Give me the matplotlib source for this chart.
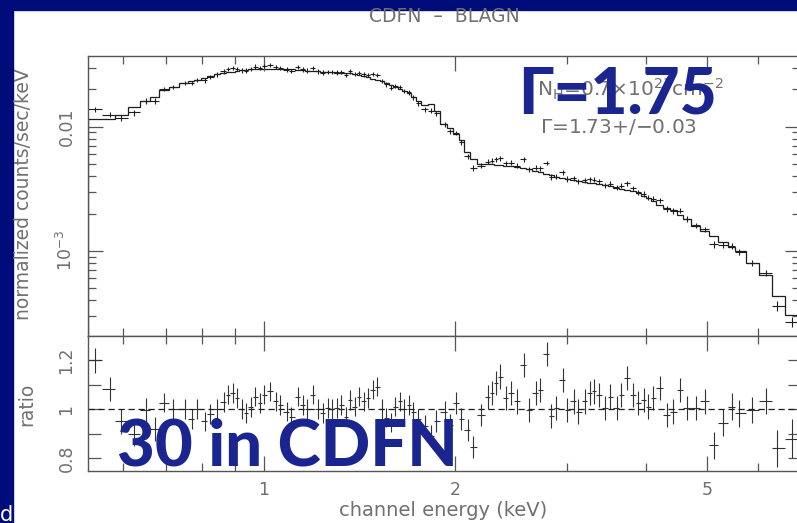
import numpy as np
import matplotlib
matplotlib.use('Agg')
import matplotlib.pyplot as plt
from matplotlib.patches import Rectangle
from matplotlib.ticker import NullFormatter

plt.rcParams['mathtext.default'] = 'regular'

# channel centres (keV)
energy = [0.541, 0.571, 0.596, 0.624, 0.651, 0.673, 0.696, 0.719, 0.751, 0.770,
          0.783, 0.806, 0.823, 0.843, 0.864, 0.878, 0.893, 0.907, 0.922, 0.937,
          0.953, 0.969, 0.985, 1.001, 1.023, 1.043, 1.060, 1.087, 1.105, 1.132,
          1.151, 1.170, 1.194, 1.215, 1.239, 1.260, 1.281, 1.302, 1.324, 1.346,
          1.368, 1.390, 1.413, 1.436, 1.460, 1.484, 1.509, 1.534, 1.559, 1.585,
          1.611, 1.638, 1.665, 1.693, 1.720, 1.749, 1.792, 1.837, 1.867, 1.929,
          1.962, 2.010, 2.044, 2.095, 2.137, 2.201, 2.256, 2.286, 2.323, 2.357,
          2.409, 2.448, 2.502, 2.572, 2.615, 2.680, 2.724, 2.792, 2.838, 2.884,
          2.957, 3.005, 3.080, 3.131, 3.209, 3.262, 3.316, 3.371, 3.455, 3.512,
          3.599, 3.658, 3.732, 3.812, 3.894, 3.973, 4.037, 4.104, 4.207, 4.312,
          4.418, 4.529, 4.642, 4.796, 4.957, 5.122, 5.293, 5.469, 5.605, 5.890,
          6.185, 6.444, 6.795]

# folded model, counts/sec/keV
model = [0.0115, 0.0115, 0.0124, 0.0145, 0.0162, 0.0175, 0.0197, 0.0210, 0.0227, 0.0235,
         0.0240, 0.0249, 0.0256, 0.0264, 0.0271, 0.0276, 0.0279, 0.0282, 0.0285, 0.0288,
         0.0290, 0.0291, 0.0292, 0.0292, 0.0293, 0.0293, 0.0292, 0.0292, 0.0290, 0.0287,
         0.0285, 0.0284, 0.0282, 0.0280, 0.0278, 0.0277, 0.0275, 0.0273, 0.0272, 0.0270,
         0.0269, 0.0265, 0.0260, 0.0256, 0.0251, 0.0245, 0.0239, 0.0233, 0.0227, 0.0219,
         0.0211, 0.0203, 0.0195, 0.0186, 0.0174, 0.0161, 0.0149, 0.0152, 0.0135, 0.0106,
         0.0098, 0.0087, 0.0078, 0.0063, 0.0055, 0.0050, 0.0050, 0.0050, 0.00495, 0.0049,
         0.00485, 0.0048, 0.00472, 0.00462, 0.00455, 0.00440, 0.00430, 0.00415, 0.00405, 0.00395,
         0.00384, 0.00380, 0.00372, 0.00367, 0.00360, 0.00355, 0.00350, 0.00345, 0.00337, 0.00331,
         0.00323, 0.00317, 0.00312, 0.00303, 0.00290, 0.00277, 0.00265, 0.00252, 0.00235, 0.00223,
         0.00212, 0.00195, 0.00180, 0.00160, 0.00145, 0.00133, 0.00118, 0.00108, 0.00100, 0.00080,
         0.00064, 0.00043, 0.000305]

# data / model
ratio = [1.200, 1.084, 0.950, 0.900, 0.997, 0.920, 1.027, 1.000, 1.000, 0.960,
         1.000, 0.950, 0.980, 1.000, 1.030, 1.060, 1.066, 1.045, 1.000, 0.985,
         1.010, 1.052, 1.025, 1.060, 1.073, 1.032, 1.018, 0.990, 0.970, 1.052,
         1.018, 1.000, 1.060, 1.000, 0.985, 1.004, 1.000, 1.004, 1.018, 0.970,
         1.038, 1.011, 1.052, 1.032, 1.045, 1.080, 1.093, 1.000, 0.966, 0.945,
         1.011, 1.032, 1.000, 1.018, 0.990, 0.960, 0.930, 0.890, 0.950, 0.990,
         0.936, 1.025, 0.960, 0.915, 0.847, 0.975, 1.050, 1.066, 1.107, 1.134,
         1.045, 1.066, 1.032, 1.182, 0.997, 1.066, 1.080, 1.227, 0.973, 1.004,
         1.120, 0.997, 1.032, 0.990, 1.032, 1.066, 1.073, 1.058, 1.004, 1.052,
         1.004, 1.058, 1.127, 1.058, 1.025, 1.038, 1.011, 1.045, 1.086, 0.976,
         0.990, 1.080, 1.004, 1.004, 1.032, 0.853, 0.945, 1.010, 0.984, 0.997,
         1.034, 0.840, 0.880]

ratio_err = [0.05] * 6 + [0.04] * 50 + [0.045] * 10 + [0.05] * 39 + [0.055] * 6 + [0.075, 0.08]

e_min, e_max = 0.528, 7.0
title = 'CDFN  \u2013  BLAGN'
nh_text = r'N$_H$=0.7$\times$10$^{21}$cm$^{-2}$'
gamma_fit = r'$\Gamma$=1.73+/$-$0.03'

energy = np.array(energy)
model = np.array(model)
ratio = np.array(ratio)
ratio_err = np.array(ratio_err)

# channel boundaries halfway (in log E) between neighbouring channels
edges = np.concatenate([[e_min], np.sqrt(energy[:-1] * energy[1:]), [e_max]])
xerr = [energy - edges[:-1], edges[1:] - energy]
counts = model * ratio
counts_err = model * ratio_err

W, H = 797, 523
fig = plt.figure(figsize=(W / 100, H / 100), dpi=100)


def box(x0, y0, x1, y1):
    return [x0 / W, 1 - y1 / H, (x1 - x0) / W, (y1 - y0) / H]


ink = '#1e1e1e'
grey = '#707070'
navy = '#1b2590'

# slide frame
fig.patches.append(Rectangle((0, 1 - 10 / H), 1, 10 / H, transform=fig.transFigure,
                             color='#000c7a', zorder=0))
fig.patches.append(Rectangle((0, 0), 13 / W, 1, transform=fig.transFigure,
                             color='#000c7a', zorder=0))

ax1 = fig.add_axes(box(88, 56, 800, 336))
ax2 = fig.add_axes(box(88, 336, 800, 471))

ax1.stairs(model, edges, color=ink, lw=0.9)
ax1.errorbar(energy, counts, xerr=xerr, yerr=counts_err, fmt='none',
             ecolor=ink, elinewidth=0.8)
ax1.set_xscale('log')
ax1.set_yscale('log')
ax1.set_xlim(e_min, e_max)
ax1.set_ylim(2.06e-4, 0.0372)

ax2.errorbar(energy, ratio, xerr=xerr, yerr=ratio_err, fmt='none',
             ecolor='#333333', elinewidth=0.8)
ax2.axhline(1.0, color=ink, lw=0.9, ls=(0, (5, 3)))
ax2.set_xscale('log')
ax2.set_xlim(e_min, e_max)
ax2.set_ylim(0.747, 1.30)

for ax in (ax1, ax2):
    ax.set_xticks([1, 2, 5], ['1', '2', '5'])
    ax.set_xticks([0.6, 0.7, 0.8, 0.9, 3, 4, 6], minor=True)
    ax.xaxis.set_minor_formatter(NullFormatter())
    ax.tick_params(which='both', direction='in', top=True, right=True,
                   colors='#555555', labelcolor=grey, labelsize=12.5)
    ax.tick_params(which='major', length=11, width=0.9)
    ax.tick_params(which='minor', length=6, width=0.9)
    ax.tick_params(axis='x', pad=7)
    ax.tick_params(axis='y', pad=9)
    for s in ax.spines.values():
        s.set_color('#555555')
        s.set_linewidth(1.0)

ax1.tick_params(labelbottom=False)
ax1.set_yticks([1e-3, 1e-2], ['$10^{-3}$', '0.01'])
ax2.set_yticks([0.8, 0.9, 1.0, 1.1, 1.2], ['0.8', '', '1', '', '1.2'])
ax2.tick_params(axis='y', which='major', length=9)

for ax in (ax1, ax2):
    for lab in ax.get_yticklabels():
        lab.set_rotation(90)
        lab.set_va('center')

fig.text(444 / W, 1 - 17 / H, title, ha='center', va='center', fontsize=13.5, color=grey)
fig.text(24 / W, 1 - 194 / H, 'normalized counts/sec/keV', rotation=90,
         ha='center', va='center', fontsize=13.5, color=grey)
fig.text(27 / W, 1 - 404 / H, 'ratio', rotation=90, ha='center', va='center',
         fontsize=13.5, color=grey)
fig.text(443 / W, 1 - 511 / H, 'channel energy (keV)', ha='center', va='center',
         fontsize=14, color=grey)

fig.text(537 / W, 1 - 97 / H, nh_text, ha='left', va='baseline', fontsize=14.5, color=grey)
fig.text(540 / W, 1 - 133 / H, gamma_fit, ha='left', va='baseline', fontsize=14.5, color=grey)

fig.text(518 / W, 1 - 113 / H, '\u0393=1.75', ha='left', va='baseline', fontsize=46,
         family='Lato', weight='black', color=navy, zorder=5)
fig.text(117 / W, 1 - 465 / H, '30 in CDFN', ha='left', va='baseline', fontsize=47,
         family='Lato', weight='black', color=navy, zorder=5)

fig.text(0, 2 / H, 'd', ha='left', va='baseline', fontsize=15, color='white')

fig.savefig('out.png', dpi=100)
